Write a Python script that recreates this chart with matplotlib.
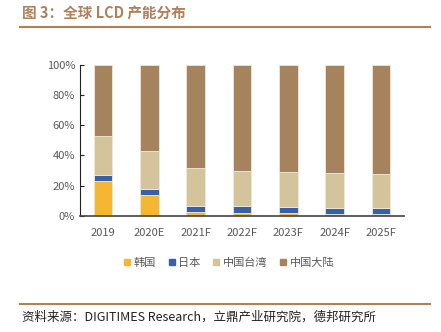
import matplotlib
matplotlib.use("Agg")
import matplotlib.pyplot as plt
from matplotlib.lines import Line2D
from matplotlib.ticker import PercentFormatter
import numpy as np

plt.rcParams['font.family'] = ['Noto Sans CJK SC', 'DejaVu Sans']

years = ["2019", "2020E", "2021F", "2022F", "2023F", "2024F", "2025F"]
korea = [23.2, 13.6, 2.4, 2.2, 2.2, 1.5, 1.5]
japan = [4.2, 4.2, 4.4, 4.2, 4.0, 3.8, 3.6]
taiwan = [25.2, 25.2, 24.8, 23.6, 22.8, 23.0, 22.7]
mainland = [100 - a - b - c for a, b, c in zip(korea, japan, taiwan)]

labels = ["韩国", "日本", "中国台湾", "中国大陆"]
colors = ["#F4B633", "#3A5FA9", "#D3C49C", "#A5835C"]
title_color = "#B0805A"

fig = plt.figure(figsize=(4.41, 3.32), dpi=100)
ax = fig.add_axes([80 / 441, 1 - 216 / 332, 324 / 441, 151.3 / 332])

x = np.arange(len(years))
bottom = np.zeros(len(years))
for vals, lab, col in zip([korea, japan, taiwan, mainland], labels, colors):
    ax.bar(x, vals, 0.4, bottom=bottom, color=col, label=lab,
           edgecolor="#efe8dc", linewidth=0.6)
    bottom += np.array(vals)

ax.set_xlim(-0.5, 6.5)
ax.set_ylim(0, 100)
ax.set_yticks(range(0, 101, 20))
ax.yaxis.set_major_formatter(PercentFormatter(decimals=0))
ax.set_xticks(x)
ax.set_xticklabels(years)
for s in ["top", "right"]:
    ax.spines[s].set_visible(False)
ax.spines["left"].set_color("#222222")
ax.spines["bottom"].set_color("#444444")
ax.spines["bottom"].set_linewidth(1.2)
ax.tick_params(axis="y", direction="in", length=3, colors="#222222",
               labelcolor="#595959", labelsize=8)
ax.tick_params(axis="x", length=0, labelcolor="#595959", labelsize=8, pad=9)

handles = [Line2D([], [], marker="s", linestyle="", markersize=5,
                  markerfacecolor=c, markeredgecolor=c) for c in colors]
fig.legend(handles, labels, loc="center", bbox_to_anchor=(228 / 441, 1 - 263 / 332),
           ncol=4, frameon=False, fontsize=8, handletextpad=0.1,
           columnspacing=0.9, handlelength=1.0, labelcolor="#595959")

# title and footer
fig.text(22 / 441, 1 - 13 / 332, "图 3：全球 LCD 产能分布", fontsize=10.5,
         fontweight="bold", color=title_color, va="center", ha="left")
fig.add_artist(Line2D([20 / 441, 430 / 441], [1 - 27 / 332, 1 - 27 / 332],
                      color=title_color, linewidth=1.5))
fig.add_artist(Line2D([20 / 441, 430 / 441], [1 - 304 / 332, 1 - 304 / 332],
                      color=title_color, linewidth=1.5))
fig.text(22 / 441, 1 - 317 / 332, "资料来源：DIGITIMES Research，立鼎产业研究院，德邦研究所",
         fontsize=9, color="#222222", va="center", ha="left")

fig.savefig("out.png", dpi=100)
